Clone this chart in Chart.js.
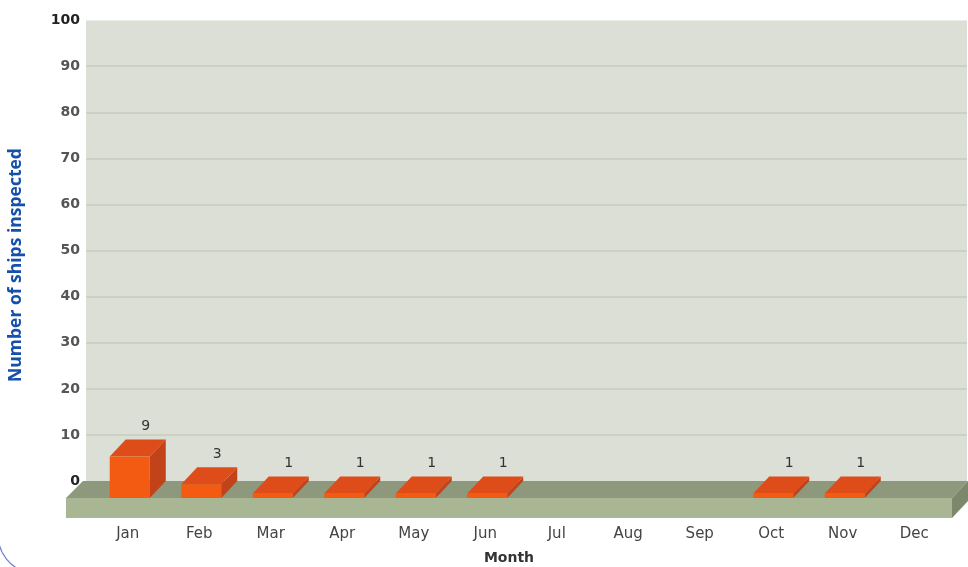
<!DOCTYPE html>
<html>
<head>
<meta charset="utf-8">
<script src="https://cdn.jsdelivr.net/npm/chart.js@4"></script>
<style>
  html, body { margin: 0; padding: 0; background: #fff; }
  canvas { display: block; }
</style>
</head>
<body>
<canvas id="shipChart" width="968" height="567"></canvas>
<script>
const months = ['Jan', 'Feb', 'Mar', 'Apr', 'May', 'Jun', 'Jul', 'Aug', 'Sep', 'Oct', 'Nov', 'Dec'];
const shipsInspected = [9, 3, 1, 1, 1, 1, 0, 0, 0, 1, 1, 0];
const yMin = 0;
const yMax = 100;
const yStep = 10;
const yTitle = 'Number of ships inspected';
const xTitle = 'Month';

// depth of the fake 3d
const DX = 16, DY = 17;

const scene3d = {
  id: 'scene3d',
  beforeDraw(chart) {
    const { ctx, chartArea: a, scales: { y } } = chart;
    const base = y.getPixelForValue(0);
    ctx.save();

    // back wall
    const wl = a.left - 6, wr = a.right + 17;
    ctx.fillStyle = '#dcdfd6';
    ctx.fillRect(wl, a.top, wr - wl, base - a.top);
    ctx.fillStyle = '#cbd2c4';
    y.ticks.forEach(t => {
      if (t.value === yMin || t.value === yMax) return;
      const py = Math.round(y.getPixelForValue(t.value));
      ctx.fillRect(wl, py - 1, wr - wl, 2);
    });

    // floor slab
    const fl = a.left - 26, fr = a.right + 2, ff = base + DY, fb = ff + 20;
    ctx.fillStyle = '#8d987d';
    ctx.beginPath();
    ctx.moveTo(fl, ff); ctx.lineTo(fl + DX + 1, base); ctx.lineTo(fr + DX, base); ctx.lineTo(fr, ff);
    ctx.closePath(); ctx.fill();
    ctx.fillStyle = '#a9b694';
    ctx.fillRect(fl, ff, fr - fl, fb - ff);
    ctx.fillStyle = '#7c876c';
    ctx.beginPath();
    ctx.moveTo(fr, ff); ctx.lineTo(fr + DX, base); ctx.lineTo(fr + DX, base + 20); ctx.lineTo(fr, fb);
    ctx.closePath(); ctx.fill();

    // page frame corner
    ctx.strokeStyle = '#6f82cc';
    ctx.lineWidth = 1.2;
    ctx.beginPath();
    ctx.arc(36.6, 535, 38.6, Math.PI * 0.95, Math.PI * 0.62, true);
    ctx.stroke();

    // axis titles
    ctx.fillStyle = '#1550ab';
    ctx.font = 'bold 17.5px "Open Sans"';
    ctx.textAlign = 'center';
    ctx.textBaseline = 'middle';
    ctx.translate(16.5, 265);
    ctx.rotate(-Math.PI / 2);
    ctx.fillText(yTitle, 0, 0);
    ctx.setTransform(1, 0, 0, 1, 0, 0);
    ctx.fillStyle = '#333';
    ctx.font = 'bold 14px "DejaVu Sans"';
    ctx.fillText(xTitle, 509, 558);
    ctx.restore();
  },
  afterDatasetsDraw(chart) {
    const { ctx } = chart;
    const meta = chart.getDatasetMeta(0);
    ctx.save();
    meta.data.forEach((bar, i) => {
      const v = shipsInspected[i];
      if (!v) return;
      const { x, y, base, width } = bar.getProps(['x', 'y', 'base', 'width'], true);
      const l = x - width / 2 + 2, r = x + width / 2 + 2;
      // right side
      ctx.fillStyle = '#c2431a';
      ctx.beginPath();
      ctx.moveTo(r, y + DY); ctx.lineTo(r + DX, y); ctx.lineTo(r + DX, base); ctx.lineTo(r, base + DY);
      ctx.closePath(); ctx.fill();
      // top
      ctx.fillStyle = '#de4c1a';
      ctx.beginPath();
      ctx.moveTo(l, y + DY); ctx.lineTo(l + DX, y); ctx.lineTo(r + DX, y); ctx.lineTo(r, y + DY);
      ctx.closePath(); ctx.fill();
      // front
      ctx.fillStyle = '#f35b12';
      ctx.fillRect(l, y + DY, r - l, base - y);

      ctx.fillStyle = '#333';
      ctx.font = '14px "DejaVu Sans"';
      ctx.textAlign = 'center';
      ctx.textBaseline = 'middle';
      ctx.fillText(String(v), x + 2 + DX, y - 13);
    });
    ctx.restore();
  }
};

new Chart(document.getElementById('shipChart').getContext('2d'), {
  type: 'bar',
  data: {
    labels: months,
    datasets: [{
      label: yTitle,
      data: shipsInspected,
      backgroundColor: 'rgba(0,0,0,0)',
      barPercentage: 0.56,
      categoryPercentage: 1
    }]
  },
  options: {
    responsive: false,
    animation: false,
    devicePixelRatio: 1,
    layout: { padding: { top: 20, right: 18, left: 0, bottom: 0 } },
    plugins: { legend: { display: false }, tooltip: { enabled: false } },
    scales: {
      x: {
        grid: { display: false, drawTicks: false },
        border: { display: false },
        ticks: { padding: 44, color: '#444', font: { family: 'DejaVu Sans', size: 15 } },
        afterFit(scale) {
          scale.height = 86;
          // big label padding should not eat into the sides
          scale.paddingLeft = 0;
          scale.paddingRight = 0;
        }
      },
      y: {
        min: yMin,
        max: yMax,
        grid: { display: false, drawTicks: false },
        border: { display: false },
        ticks: {
          stepSize: yStep,
          padding: 12,
          color: c => (c.tick.value === yMin || c.tick.value === yMax) ? '#222' : '#555',
          font: { family: 'DejaVu Sans', size: 14, weight: 'bold' }
        },
        afterFit(scale) { scale.width = 92; }
      }
    }
  },
  plugins: [scene3d]
});
</script>
</body>
</html>
